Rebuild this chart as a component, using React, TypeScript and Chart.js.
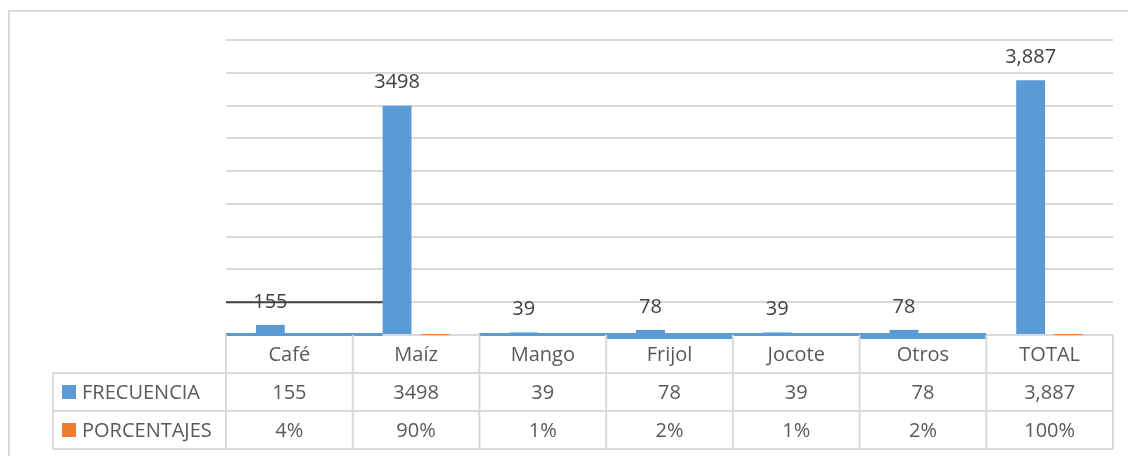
import React, { useEffect, useRef } from "react";
import { Chart, registerables } from "chart.js";

Chart.register(...registerables);

const categories = ["Café", "Maíz", "Mango", "Frijol", "Jocote", "Otros", "TOTAL"];
const frecuencia = [155, 3498, 39, 78, 39, 78, 3887];
const porcentajes = [0.04, 0.9, 0.01, 0.02, 0.01, 0.02, 1];
const frecuenciaText = ["155", "3498", "39", "78", "39", "78", "3,887"];
const porcentajesText = ["4%", "90%", "1%", "2%", "1%", "2%", "100%"];
const seriesNames = ["FRECUENCIA", "PORCENTAJES"];
const seriesColors = ["#5b9bd5", "#ed7d31"];
const yMax = 4500;
const yStep = 500;

const FONT = '20px "Open Sans", sans-serif';
const GRID = "#d9d9d9";
const TEXT = "#595959";

const framePlugin = {
  id: "frame",
  beforeDraw(chart: any) {
    const ctx = chart.ctx;
    ctx.save();
    ctx.strokeStyle = GRID;
    ctx.lineWidth = 2;
    ctx.strokeRect(9, 11, chart.width + 20, chart.height + 20);
    ctx.restore();
  },
};

const artifactPlugin = {
  id: "artifacts",
  afterDatasetsDraw(chart: any) {
    const ctx = chart.ctx;
    const x = chart.scales.x;
    const y = chart.scales.y;
    const area = chart.chartArea;
    const n = categories.length;
    const cw = (area.right - area.left) / n;
    const base = y.getPixelForValue(0);
    const meta = chart.getDatasetMeta(0);
    ctx.save();
    // thin blue strips at the baseline for small values
    ctx.fillStyle = seriesColors[0];
    categories.forEach((_, i) => {
      if (frecuencia[i] > 1000) return;
      const c = x.getPixelForValue(i);
      let l = c - cw / 2;
      let r = c + cw / 2;
      if (i === 0) r = meta.data[1].x - meta.data[1].width / 2;
      const h = frecuencia[i] >= 70 && frecuencia[i] < 100 ? 6 : 3;
      ctx.fillRect(l, base - 2, r - l, h);
    });
    // dark line across first category
    const b1 = meta.data[1];
    const ly = y.getPixelForValue(yStep);
    ctx.strokeStyle = "#404040";
    ctx.lineWidth = 2;
    ctx.beginPath();
    ctx.moveTo(area.left, ly);
    ctx.lineTo(b1.x - b1.width / 2, ly);
    ctx.stroke();
    ctx.restore();
  },
};

const labelPlugin = {
  id: "barLabels",
  afterDraw(chart: any) {
    const ctx = chart.ctx;
    const meta = chart.getDatasetMeta(0);
    ctx.save();
    ctx.font = FONT;
    ctx.fillStyle = "#404040";
    ctx.textAlign = "center";
    ctx.textBaseline = "middle";
    meta.data.forEach((bar: any, i: number) => {
      ctx.fillText(frecuenciaText[i], bar.x, bar.y - 23);
    });
    ctx.restore();
  },
};

const tablePlugin = {
  id: "dataTable",
  afterDraw(chart: any) {
    const ctx = chart.ctx;
    const x = chart.scales.x;
    const y = chart.scales.y;
    const area = chart.chartArea;
    const n = categories.length;
    const cw = (area.right - area.left) / n;
    const top = y.getPixelForValue(0);
    const rh = 38;
    const legLeft = 53;
    ctx.save();
    ctx.strokeStyle = GRID;
    ctx.lineWidth = 2;
    // horizontal lines
    const hline = (yy: number, x0: number, x1: number) => {
      ctx.beginPath();
      ctx.moveTo(x0, yy);
      ctx.lineTo(x1, yy);
      ctx.stroke();
    };
    const vline = (xx: number, y0: number, y1: number) => {
      ctx.beginPath();
      ctx.moveTo(xx, y0);
      ctx.lineTo(xx, y1);
      ctx.stroke();
    };
    hline(top + rh, legLeft, area.right);
    hline(top + rh * 2, legLeft, area.right);
    hline(top + rh * 3, legLeft, area.right);
    for (let i = 0; i <= n; i++) {
      vline(area.left + i * cw, top, top + rh * 3);
    }
    vline(legLeft, top + rh, top + rh * 3);

    ctx.font = FONT;
    ctx.fillStyle = TEXT;
    ctx.textAlign = "center";
    ctx.textBaseline = "middle";
    const rows = [categories, frecuenciaText, porcentajesText];
    rows.forEach((row, r) => {
      row.forEach((t, i) => {
        ctx.fillText(t, x.getPixelForValue(i), top + rh * r + rh / 2 + 1);
      });
    });
    // legend keys
    ctx.textAlign = "left";
    seriesNames.forEach((name, s) => {
      const cy = top + rh * (s + 1) + rh / 2;
      ctx.fillStyle = seriesColors[s];
      ctx.fillRect(legLeft + 9, cy - 7, 14, 14);
      ctx.fillStyle = TEXT;
      ctx.fillText(name, legLeft + 29, cy + 1);
    });
    ctx.restore();
  },
};

export default function App() {
  const ref = useRef<HTMLCanvasElement | null>(null);
  useEffect(() => {
    if (!ref.current) return;
    const chart = new Chart(ref.current, {
      type: "bar",
      data: {
        labels: categories,
        datasets: [
          {
            label: seriesNames[0],
            data: frecuencia,
            backgroundColor: seriesColors[0],
            categoryPercentage: 0.6,
            barPercentage: 0.76,
          },
          {
            label: seriesNames[1],
            data: porcentajes,
            backgroundColor: seriesColors[1],
            categoryPercentage: 0.6,
            barPercentage: 0.76,
          },
        ],
      },
      options: {
        responsive: false,
        animation: false,
        layout: { padding: { left: 226, right: 15, top: 40, bottom: 121 } },
        plugins: { legend: { display: false }, tooltip: { enabled: false } },
        scales: {
          x: { display: false },
          y: {
            min: 0,
            max: yMax,
            ticks: { display: false, stepSize: yStep },
            grid: { color: GRID, lineWidth: 2, drawTicks: false },
            border: { display: false },
          },
        },
      },
      plugins: [framePlugin, artifactPlugin, labelPlugin, tablePlugin],
    });
    return () => chart.destroy();
  }, []);
  return (
    <div style={{ position: "fixed", left: 0, top: 0, width: 1128, height: 456, background: "#fff" }}>
      <canvas ref={ref} width={1128} height={456} />
    </div>
  );
}
